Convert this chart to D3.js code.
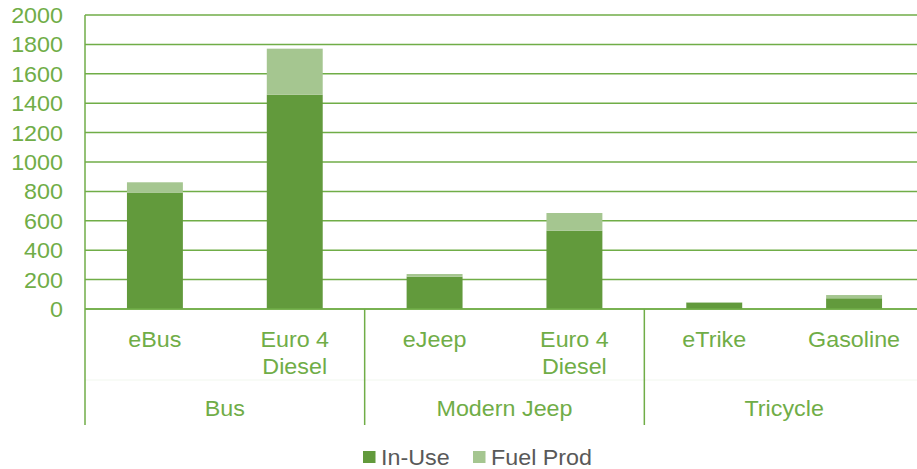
<!DOCTYPE html>
<html><head><meta charset="utf-8">
<script src="https://cdn.jsdelivr.net/npm/d3@7"></script>
<style>body{margin:0;background:#fff}svg{display:block}text{font-family:"Liberation Sans",Arial,sans-serif}</style>
</head><body><svg id="c" width="917" height="469"></svg>
<script>
const groups = ["Bus","Modern Jeep","Tricycle"];
const categories = [["eBus"],["Euro 4","Diesel"],["eJeep"],["Euro 4","Diesel"],["eTrike"],["Gasoline"]];
const categoryGroup = [0,0,1,1,2,2];
const inUse = [790, 1458, 220, 533, 43, 73];
const fuelProd = [72, 313, 18, 120, 3, 22];
const yTicks = [0,200,400,600,800,1000,1200,1400,1600,1800,2000];
const seriesNames = ["In-Use","Fuel Prod"];
const colors = ["#629a3c","#a5c690"];
const green = "#70ad47";
const FS = 22, SX = 1.06;

const svg = d3.select("#c");
const L=85, R=924, T=15, B=309;
const x = d3.scaleBand().domain(d3.range(categories.length)).range([L,R]).paddingInner(0.6).paddingOuter(0.3);
const y = d3.scaleLinear().domain([0,2000]).range([B,T]);
const tr = (px,py)=>`translate(${px},${py}) scale(${SX},1)`;

// gridlines
svg.append("g").selectAll("line").data(yTicks).join("line")
  .attr("x1",L).attr("x2",917).attr("y1",d=>y(d)).attr("y2",d=>y(d))
  .attr("stroke",green).attr("stroke-width",1.5);

// y labels
svg.append("g").selectAll("text").data(yTicks).join("text")
  .attr("transform",d=>tr(63,y(d)+8)).attr("text-anchor","end")
  .attr("font-size",FS).attr("fill",green).text(d=>d);

// stacked bars
const rows = categories.map((c,i)=>({i, a:inUse[i], b:fuelProd[i]}));
const stack = d3.stack().keys(["a","b"])(rows);
svg.append("g").selectAll("g").data(stack).join("g").attr("fill",(d,k)=>colors[k])
  .selectAll("rect").data(d=>d).join("rect")
  .attr("x",d=>x(d.data.i)).attr("width",x.bandwidth())
  .attr("y",d=>y(d[1])).attr("height",d=>y(d[0])-y(d[1]));

// axes lines
const step = (R-L)/categories.length;
svg.append("line").attr("x1",L).attr("x2",917).attr("y1",380).attr("y2",380).attr("stroke","#f1f7ee").attr("stroke-width",1);
svg.append("line").attr("x1",L).attr("x2",L).attr("y1",T).attr("y2",425).attr("stroke",green).attr("stroke-width",1.5);
svg.append("line").attr("x1",L).attr("x2",917).attr("y1",B).attr("y2",B).attr("stroke",green).attr("stroke-width",1.5);
[2,4].forEach(k=>{
  const xx = L+step*k;
  svg.append("line").attr("x1",xx).attr("x2",xx).attr("y1",B).attr("y2",425).attr("stroke",green).attr("stroke-width",1.5);
});

// category labels
categories.forEach((lines,i)=>{
  lines.forEach((t,j)=>{
    svg.append("text").attr("transform",tr(x(i)+x.bandwidth()/2, 347+j*26.7))
      .attr("text-anchor","middle").attr("font-size",FS).attr("fill",green).text(t);
  });
});

// group labels
svg.append("g").selectAll("text").data(groups).join("text")
  .attr("transform",(d,g)=>tr(L+step*(2*g+1),416))
  .attr("text-anchor","middle").attr("font-size",FS).attr("fill",green).text(d=>d);

// legend
const lg = svg.append("g");
const lx=[363,473];
seriesNames.forEach((n,k)=>{
  lg.append("rect").attr("x",lx[k]).attr("y",451).attr("width",12.5).attr("height",12).attr("fill",colors[k]);
  lg.append("text").attr("transform",tr(lx[k]+18,464.5)).attr("font-size",FS).attr("fill","#595959").text(n);
});
</script></body></html>
